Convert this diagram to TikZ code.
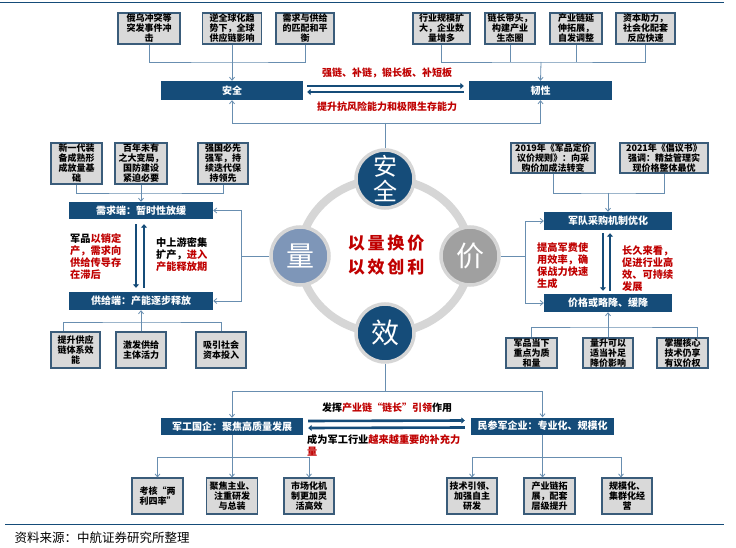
\documentclass[tikz,border=0pt]{standalone}
\usepackage{fontspec}
\setmainfont{Noto Sans CJK SC}
\usetikzlibrary{arrows.meta}
\definecolor{navy}{RGB}{21,76,121}
\definecolor{boxedge}{RGB}{58,92,122}
\definecolor{boxfill}{RGB}{217,217,217}
\definecolor{lnc}{RGB}{104,142,176}
\definecolor{darkred}{RGB}{192,0,0}
\definecolor{slate}{RGB}{126,150,184}
\definecolor{midgray}{RGB}{160,160,160}
\definecolor{ringc}{RGB}{214,214,214}
\begin{document}
\begin{tikzpicture}[x=1pt, y=-1pt,
  box/.style={draw=boxedge, line width=1.1pt, fill=boxfill,
              font=\fontsize{9}{10}\selectfont\bfseries, align=center, inner sep=0pt},
  bar/.style={fill=navy, text=white, minimum height=18pt, inner sep=0pt,
              font=\fontsize{10}{12}\selectfont\bfseries},
  ln/.style={draw=lnc, line width=0.8pt},
  lnar/.style={ln, -{Straight Barb[length=3pt, width=5pt]}},
  thk/.style={draw=navy, line width=2.6pt, -{Triangle[length=3.5pt, width=6pt]}},
  lbl/.style={font=\fontsize{10}{12}\selectfont\bfseries, text=darkred},
  side/.style={font=\fontsize{10.2}{12}\selectfont\bfseries, align=left, anchor=north west, inner sep=0pt},
  dot/.style={circle, draw=ringc, line width=3.5pt, minimum size=58pt, inner sep=0pt,
              text=white},
  ring/.style={draw=ringc, line width=8pt},
]
\fill[white] (0,0) rectangle (736,548);
\useasboundingbox (0,0) rectangle (736,548);

% ---- Frame -----------------------------------------------------------------
\draw[navy, line width=1pt] (0,3) -- (724,3);
\draw[navy, line width=1pt] (5,524) -- (724,524);
\node[anchor=west, font=\fontsize{12.5}{14}\selectfont] (src) at (11,538)
  {资料来源：中航证券研究所整理};

% ---- Safety / resilience (top) ---------------------------------------------
\node[box, minimum width=62pt, minimum height=31pt] (s1) at (149,28.5) {俄乌冲突等\\突发事件冲\\击};
\node[box, minimum width=59pt, minimum height=31pt] (s2) at (232,28.5) {逆全球化趋\\势下，全球\\供应链影响};
\node[box, minimum width=58pt, minimum height=31pt] (s3) at (305,28.5) {需求与供给\\的匹配和平\\衡};

\node[box, minimum width=57pt, minimum height=31pt] (r1) at (441.5,28.5) {行业规模扩\\大，企业数\\量增多};
\node[box, minimum width=50pt, minimum height=31pt] (r2) at (510,28.5) {链长带头，\\构建产业\\生态圈};
\node[box, minimum width=52pt, minimum height=31pt] (r3) at (576,28.5) {产业链延\\伸拓展，\\自发调整};
\node[box, minimum width=59pt, minimum height=31pt] (r4) at (645.5,28.5) {资本助力，\\社会化配套\\反应快速};

\node[bar, minimum width=142pt, minimum height=19pt] (safe) at (232,90.5) {安全};
\node[bar, minimum width=143pt, minimum height=19pt] (tough) at (540.5,90.5) {韧性};

\coordinate (sj) at (232,62);
\draw[ln] (s1.south) |- (sj) -| (s3.south);
\draw[lnar] (s2.south) -- (safe.north);

\coordinate (tj) at (541,62);
\draw[ln] (r1.south) |- (tj) -| (r4.south);
\draw[ln] (r2.south) -- (r2.south |- tj);
\draw[ln] (r3.south) -- (r3.south |- tj);
\draw[lnar] (tj) -- (tough.north);

\draw[thk] ([xshift=4pt, yshift=4.5pt]safe.east) -- ([xshift=-5pt, yshift=4.5pt]tough.west);
\draw[thk] ([xshift=-5pt, yshift=-1.5pt]tough.west) -- ([xshift=4pt, yshift=-1.5pt]safe.east);
\node[lbl] (chain) at (387,73) {强链、补链，锻长板、补短板};
\node[lbl] (risk) at (387,107) {提升抗风险能力和极限生存能力};

% ---- Centre ring -----------------------------------------------------------
\draw[ring] (385,256) ellipse [x radius=85pt, y radius=77pt];
\node[dot, fill=navy, font=\fontsize{24}{25}\selectfont, align=center] (anq) at (385,179) {安\\全};
\node[dot, fill=slate, font=\fontsize{28}{30}\selectfont] (liang) at (300,256) {量};
\node[dot, fill=midgray, font=\fontsize{28}{30}\selectfont] (jia) at (470,256) {价};
\node[dot, fill=navy, font=\fontsize{28}{30}\selectfont] (xiao) at (385,333) {效};
\node[font=\fontsize{17}{24}\selectfont\bfseries, text=darkred, align=center] (motto) at (386,255)
  {以\,量\,换\,价\\以\,效\,创\,利};

\coordinate (uj) at (385,123);
\draw[lnar] (uj) -| (safe.south);
\draw[lnar] (uj) -| (tough.south);
\draw[ln] (uj) -- (anq.north);

% ---- Volume (left) ---------------------------------------------------------
\node[box, minimum width=51pt, minimum height=41pt] (l1) at (76.5,163.5) {新一代装\\备成熟形\\成放量基\\础};
\node[box, minimum width=52pt, minimum height=41pt] (l2) at (141,163.5) {百年未有\\之大变局，\\国防建设\\紧迫必要};
\node[box, minimum width=50pt, minimum height=41pt] (l3) at (223,163.5) {强国必先\\强军，持\\续迭代保\\持领先};

\node[bar, minimum width=144pt, minimum height=17pt] (demand) at (141,210.5) {需求端：暂时性放缓};
\node[bar, minimum width=144pt, minimum height=18pt] (supply) at (141,301) {供给端：产能逐步释放};

\coordinate (lj) at (141,193);
\draw[ln] (l1.south) |- (lj) -| (l3.south);
\draw[lnar] (l2.south) -- (demand.north);

\draw[thk] ([xshift=-5pt, yshift=-5pt]demand.south) -- ([xshift=-5pt, yshift=4pt]supply.north);
\draw[thk] ([xshift=3pt, yshift=4pt]supply.north) -- ([xshift=3pt, yshift=-5pt]demand.south);

\node[side] (lagtxt) at (70,233)
  {军品\textcolor{darkred}{以销定}\\\textcolor{darkred}{产，需求向}\\\textcolor{darkred}{供给传导存}\\\textcolor{darkred}{在滞后}};
\node[side] (uptxt) at (156,237)
  {中上游密集\\扩产，\textcolor{darkred}{进入}\\\textcolor{darkred}{产能释放期}};

\coordinate (qj) at (241,256);
\draw[ln] (liang.west) -- (qj);
\draw[lnar] (qj) |- (demand.east);
\draw[lnar] (qj) |- (supply.east);

\node[box, minimum width=49pt, minimum height=36pt] (b1) at (75.5,350) {提升供应\\链体系效\\能};
\node[box, minimum width=50pt, minimum height=36pt] (b2) at (141,350) {激发供给\\主体活力};
\node[box, minimum width=50pt, minimum height=36pt] (b3) at (221,350) {吸引社会\\资本投入};

\coordinate (bj) at (141,322);
\draw[ln] ([xshift=-12pt]b1.north) |- (bj) -| (b3.north);
\draw[lnar] (b2.north) -- (supply.south);

% ---- Price (right) ---------------------------------------------------------
\node[box, minimum width=84pt, minimum height=30pt] (p1) at (553,158) {2019年《军品定价\\议价规则》：向采\\购价加成法转变};
\node[box, minimum width=88pt, minimum height=30pt] (p2) at (664,158) {2021年《倡议书》\\强调：精益管理实\\现价格整体最优};

\node[bar, minimum width=128pt] (army) at (608,221) {军队采购机制优化};
\node[bar, minimum width=128pt] (price) at (608,303) {价格或略降、缓降};

\coordinate (pj) at (608,193);
\draw[ln] (p1.south) |- (pj) -| (p2.south);
\draw[lnar] (pj) -- (army.north);

\draw[thk] ([xshift=-5pt, yshift=-3pt]army.south) -- ([xshift=-5pt, yshift=3pt]price.north);
\draw[thk] ([xshift=2pt, yshift=3pt]price.north) -- ([xshift=2pt, yshift=-3pt]army.south);

\node[side, text=darkred] (efftxt) at (537,242)
  {提高军费使\\用效率，确\\保战力快速\\生成};
\node[side, text=darkred] (longtxt) at (622,246)
  {长久来看，\\促进行业高\\效、可持续\\发展};

\coordinate (jj) at (525,256);
\draw[ln] (jia.east) -- (jj);
\draw[lnar] (jj) |- (army.west);
\draw[lnar] (jj) |- (price.west);

\node[box, minimum width=51pt, minimum height=30pt] (q1) at (531.5,353) {军品当下\\重点为质\\和量};
\node[box, minimum width=50pt, minimum height=30pt] (q2) at (608,353) {量升可以\\适当补足\\降价影响};
\node[box, minimum width=51pt, minimum height=30pt] (q3) at (682.5,353) {掌握核心\\技术仍享\\有议价权};

\coordinate (qk) at (608,327);
\draw[ln] (q1.north) |- (qk) -| ([xshift=14.5pt]q3.north);
\draw[lnar] (q2.north) -- (price.south);

% ---- Efficiency (bottom) ---------------------------------------------------
\node[bar, minimum width=142pt, minimum height=17pt] (soe) at (232,426.5) {军工国企：聚焦高质量发展};
\node[bar, minimum width=143pt, minimum height=17pt] (civ) at (542.5,426) {民参军企业：专业化、规模化};

\coordinate (xj) at (385,391);
\draw[ln] (xiao.south) -- (xj);
\draw[lnar] (xj) -| (soe.north);
\draw[lnar] (xj) -| (civ.north);

\draw[thk] ([xshift=5pt, yshift=5.5pt]soe.east) -- ([xshift=-6pt, yshift=5.5pt]civ.west);
\draw[thk] ([xshift=-6pt, yshift=-1.5pt]civ.west) -- ([xshift=5pt, yshift=-1.5pt]soe.east);
\node[font=\fontsize{10}{12}\selectfont\bfseries] (lead) at (387,408)
  {发挥\textcolor{darkred}{产业链“链长”引领}作用};
\node[side] (suppl) at (307,434)
  {成为军工行业\textcolor{darkred}{越来越重要的补充力}\\\textcolor{darkred}{量}};

\node[box, minimum width=51pt, minimum height=36pt] (g1) at (157.5,496) {考核“两\\利四率”};
\node[box, minimum width=51pt, minimum height=36pt] (g2) at (232,496) {聚焦主业、\\注重研发\\与总装};
\node[box, minimum width=50pt, minimum height=36pt] (g3) at (309,496) {市场化机\\制更加灵\\活高效};

\coordinate (gj) at (232,457);
\draw[ln] (soe.south) -- (gj);
\draw[lnar] (gj) -| (g1.north);
\draw[lnar] (gj) -| (g3.north);
\draw[lnar] (gj) -- (g2.north);

\node[box, minimum width=50pt, minimum height=36pt] (m1) at (472,496) {技术引领、\\加强自主\\研发};
\node[box, minimum width=51pt, minimum height=36pt] (m2) at (549.5,496) {产业链拓\\展，配套\\层级提升};
\node[box, minimum width=50pt, minimum height=36pt] (m3) at (627,496) {规模化、\\集群化经\\营};

\coordinate (mj) at (542.5,457);
\draw[ln] (civ.south) -- (mj);
\draw[lnar] (mj) -| (m1.north);
\draw[lnar] (mj) -| ([xshift=-6pt]m3.north);
\draw[lnar] (mj) -- (mj |- m2.north);

\end{tikzpicture}
\end{document}
